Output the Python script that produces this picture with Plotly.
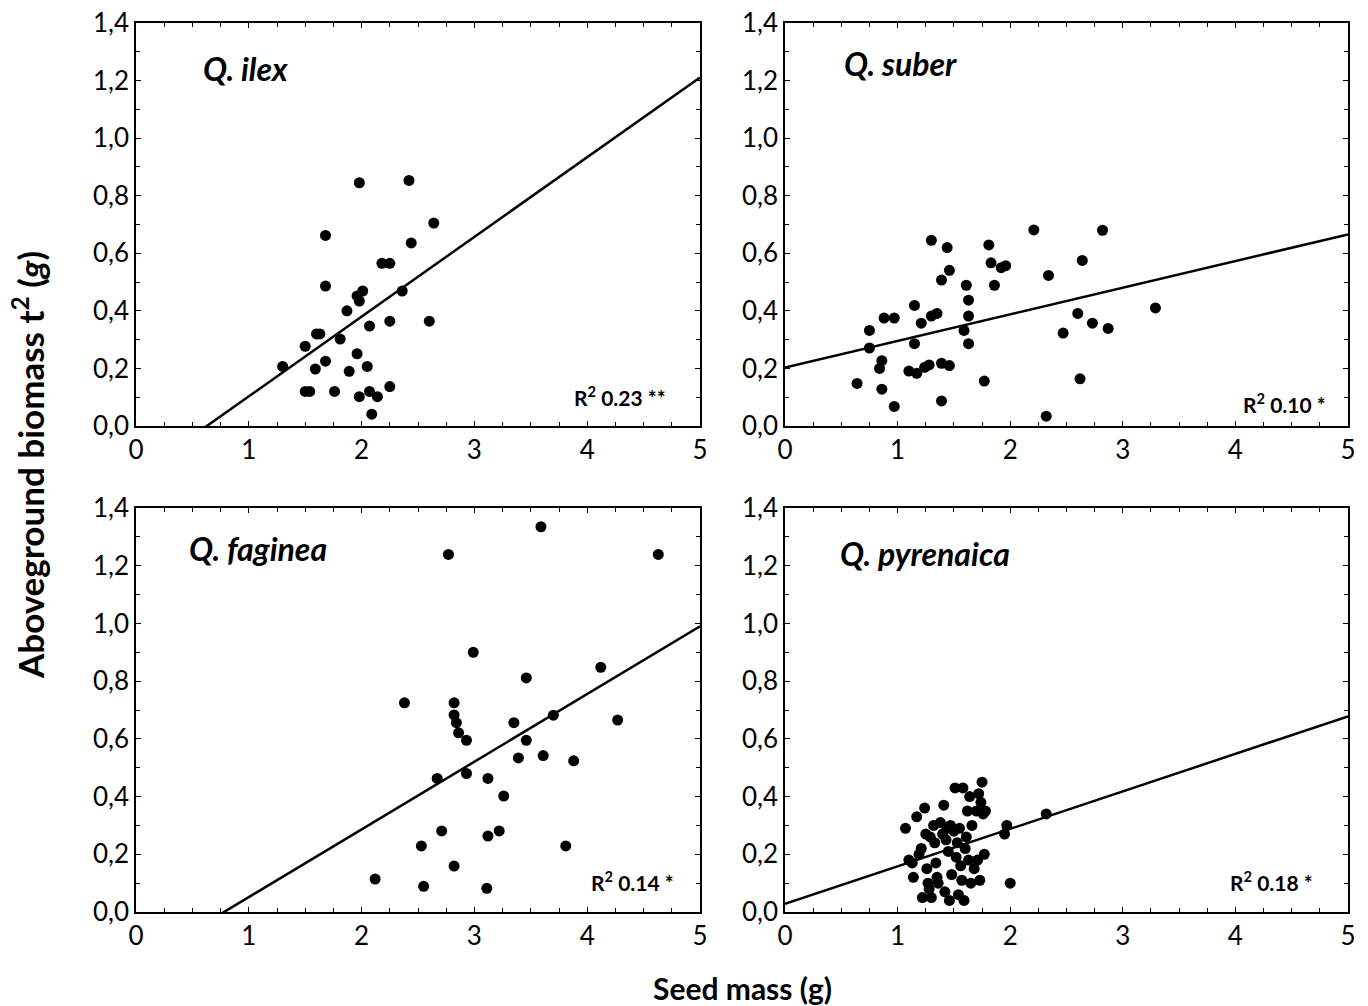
import plotly.graph_objects as go

# Seed mass (g) and aboveground biomass (g) per species
ilex_x = [1.98, 2.42, 2.64, 1.68, 2.44, 2.18, 2.25, 1.68, 2.01, 1.96, 1.98, 2.36, 1.87, 2.07,
          2.25, 2.60, 1.60, 1.63, 1.81, 1.50, 1.96, 1.30, 1.68, 1.59, 1.89, 2.05, 1.50, 1.54,
          1.76, 2.07, 2.25, 1.98, 2.14, 2.09]
ilex_y = [0.845, 0.853, 0.705, 0.662, 0.636, 0.565, 0.565, 0.486, 0.469, 0.452, 0.434, 0.469,
          0.400, 0.347, 0.364, 0.364, 0.320, 0.320, 0.302, 0.277, 0.251, 0.207, 0.225, 0.198,
          0.190, 0.207, 0.120, 0.120, 0.120, 0.120, 0.137, 0.102, 0.102, 0.041]

suber_x = [1.30, 1.44, 1.81, 2.21, 1.46, 1.83, 1.92, 1.96, 2.34, 1.39, 1.61, 1.86, 1.63, 1.15,
           0.88, 0.97, 1.30, 1.35, 1.21, 1.63, 0.75, 1.59, 2.47, 0.75, 1.15, 1.63, 0.86, 0.84,
           1.10, 1.17, 1.24, 1.28, 1.39, 1.46, 0.64, 0.86, 1.77, 0.97, 1.39, 2.32, 2.82, 2.64,
           2.60, 2.73, 2.87, 3.29, 2.62]
suber_y = [0.645, 0.620, 0.629, 0.681, 0.541, 0.567, 0.550, 0.557, 0.523, 0.507, 0.489, 0.489,
           0.437, 0.419, 0.375, 0.375, 0.382, 0.391, 0.357, 0.382, 0.332, 0.332, 0.323, 0.271,
           0.286, 0.286, 0.227, 0.200, 0.191, 0.183, 0.204, 0.212, 0.218, 0.210, 0.148, 0.128,
           0.156, 0.068, 0.087, 0.034, 0.680, 0.575, 0.391, 0.357, 0.339, 0.410, 0.164]

faginea_x = [2.77, 2.38, 2.67, 2.71, 2.53, 2.12, 2.55, 3.59, 4.63, 2.99, 3.46, 4.12, 2.82, 2.82,
             2.84, 2.86, 2.93, 3.35, 3.70, 4.27, 3.46, 3.39, 3.61, 3.88, 2.93, 3.12, 3.26, 3.12,
             3.22, 3.81, 2.82, 3.11]
faginea_y = [1.239, 0.725, 0.463, 0.281, 0.229, 0.114, 0.089, 1.335, 1.239, 0.900, 0.811, 0.848,
             0.725, 0.683, 0.656, 0.621, 0.595, 0.656, 0.682, 0.665, 0.595, 0.534, 0.542, 0.524,
             0.480, 0.463, 0.402, 0.263, 0.281, 0.229, 0.159, 0.082]

pyrenaica_x = [1.07, 1.10, 1.13, 1.14, 1.17, 1.19, 1.21, 1.22, 1.24, 1.25, 1.26, 1.27, 1.28, 1.29,
               1.30, 1.32, 1.33, 1.34, 1.35, 1.36, 1.38, 1.40, 1.41, 1.42, 1.43, 1.44, 1.45, 1.46,
               1.47, 1.48, 1.50, 1.51, 1.52, 1.53, 1.54, 1.55, 1.56, 1.57, 1.58, 1.59, 1.60, 1.61,
               1.62, 1.63, 1.64, 1.65, 1.66, 1.68, 1.70, 1.71, 1.72, 1.73, 1.74, 1.75, 1.76, 1.77,
               1.78, 1.95, 1.97, 2.00, 2.32]
pyrenaica_y = [0.29, 0.18, 0.17, 0.12, 0.33, 0.20, 0.22, 0.05, 0.36, 0.27, 0.15, 0.10, 0.08, 0.26,
               0.05, 0.30, 0.24, 0.17, 0.12, 0.10, 0.31, 0.27, 0.37, 0.07, 0.25, 0.29, 0.21, 0.04,
               0.30, 0.13, 0.28, 0.43, 0.19, 0.24, 0.06, 0.29, 0.16, 0.11, 0.43, 0.04, 0.22, 0.26,
               0.35, 0.18, 0.40, 0.10, 0.30, 0.15, 0.35, 0.18, 0.41, 0.11, 0.38, 0.45, 0.34, 0.20,
               0.35, 0.27, 0.30, 0.10, 0.34]

# Fitted regressions (intercept, slope) and their R² labels
species = ["Q. ilex", "Q. suber", "Q. faginea", "Q. pyrenaica"]
intercepts = [-0.174, 0.203, -0.183, 0.028]
slopes = [0.277, 0.0925, 0.2346, 0.130]
r2_labels = ["R<sup>2</sup> 0.23 **", "R<sup>2</sup> 0.10 *", "R<sup>2</sup> 0.14 *", "R<sup>2</sup> 0.18 *"]

x_ticks = [0, 1, 2, 3, 4, 5]
y_ticks = [0.0, 0.2, 0.4, 0.6, 0.8, 1.0, 1.2, 1.4]

xs = [ilex_x, suber_x, faginea_x, pyrenaica_x]
ys = [ilex_y, suber_y, faginea_y, pyrenaica_y]

W, H = 1368, 1006
# pixel boxes of each panel: (left, right, top, bottom)
boxes = [(136, 700, 23, 426), (785, 1348, 23, 426), (136, 700, 508, 912), (785, 1348, 508, 912)]

FONT = "Lato"
fig = go.Figure()
layout = {}
for i in range(4):
    sfx = "" if i == 0 else str(i + 1)
    xa, ya = "x" + sfx, "y" + sfx
    fig.add_trace(go.Scatter(x=xs[i], y=ys[i], mode="markers", xaxis=xa, yaxis=ya,
                             marker=dict(color="black", size=11), showlegend=False))
    line_x = [0, 5]
    line_y = [intercepts[i] + slopes[i] * v for v in line_x]
    fig.add_trace(go.Scatter(x=line_x, y=line_y, mode="lines", xaxis=xa, yaxis=ya,
                             line=dict(color="black", width=2.5), showlegend=False))
    l, r, t, b = boxes[i]
    common = dict(showline=True, linecolor="black", linewidth=1.5, mirror="ticks",
                  ticks="inside", ticklen=5, tickwidth=1, tickcolor="black",
                  showgrid=False, zeroline=False, automargin=False,
                  tickfont=dict(family=FONT, size=26, color="black"))
    layout["xaxis" + sfx] = dict(common, domain=[l / W, r / W], anchor=ya,
                                 range=[0, 5], tickvals=x_ticks,
                                 minor=dict(dtick=0.25, ticks="inside", ticklen=4,
                                            tickcolor="black", showgrid=False))
    layout["yaxis" + sfx] = dict(common, domain=[1 - b / H, 1 - t / H], anchor=xa,
                                 range=[0, 1.4], tickvals=y_ticks, tickformat=".1f",
                                 minor=dict(dtick=0.1, ticks="inside", ticklen=4,
                                            tickcolor="black", showgrid=False))

fig.update_layout(**layout)

annotations = []
name_pos = [(0.58, 1.243), (0.506, 1.26), (0.45, 1.261), (0.47, 1.244)]
r2_pos = [(4.72, 0.104), (4.82, 0.08), (4.79, 0.107), (4.71, 0.107)]
for i in range(4):
    sfx = "" if i == 0 else str(i + 1)
    annotations.append(dict(x=name_pos[i][0], y=name_pos[i][1], xref="x" + sfx, yref="y" + sfx,
                            text="<b><i>" + species[i] + "</i></b>", showarrow=False,
                            xanchor="left", yanchor="middle",
                            font=dict(family=FONT, size=32, color="black")))
    annotations.append(dict(x=r2_pos[i][0], y=r2_pos[i][1], xref="x" + sfx, yref="y" + sfx,
                            text="<b>" + r2_labels[i] + "</b>", showarrow=False,
                            xanchor="right", yanchor="middle",
                            font=dict(family=FONT, size=21, color="black")))

annotations.append(dict(x=742 / W, y=1 - 988 / H, xref="paper", yref="paper",
                        text="<b>Seed mass (g)</b>", showarrow=False,
                        xanchor="center", yanchor="middle",
                        font=dict(family=FONT, size=30, color="black")))
annotations.append(dict(x=28 / W, y=1 - 465 / H, xref="paper", yref="paper",
                        text="<b>Aboveground biomass t<sup>2</sup> (<i>g</i>)</b>", showarrow=False,
                        textangle=-90, xanchor="center", yanchor="middle",
                        font=dict(family=FONT, size=35, color="black")))

fig.update_layout(width=W, height=H, margin=dict(l=0, r=0, t=0, b=0),
                  paper_bgcolor="white", plot_bgcolor="white",
                  separators=",.", annotations=annotations)

fig.write_html("out.html")
